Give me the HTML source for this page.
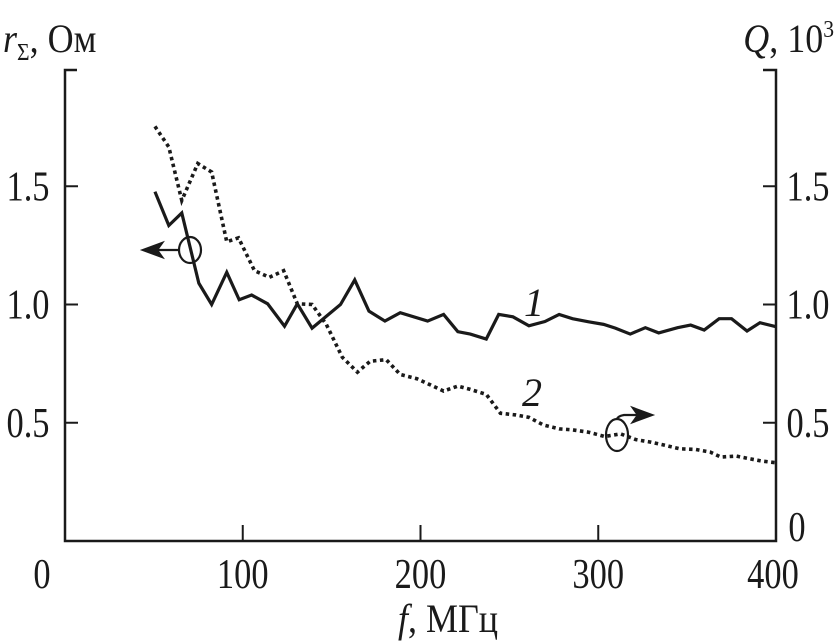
<!DOCTYPE html>
<html><head><meta charset="utf-8"><style>
html,body{margin:0;padding:0;background:#fff;}
svg{display:block;font-family:"Liberation Serif",serif;}
</style></head><body>
<svg id="chart" width="836" height="643" viewBox="0 0 836 643" xmlns="http://www.w3.org/2000/svg">
<g id="axes" stroke="#1a1a1a" stroke-width="2.5" fill="none">
<path d="M77,70 H65 V541 H776 V70 H763"/>
</g>
<g id="ticks" stroke="#1a1a1a" stroke-width="2"></g>
<g id="labels" font-size="42" fill="#1a1a1a"></g>
<text transform="translate(3,52) scale(0.9,1)" font-size="40" fill="#1a1a1a"><tspan font-style="italic">r</tspan><tspan font-size="24" dy="8">Σ</tspan><tspan dy="-8">, Ом</tspan></text>
<text transform="translate(834,52) scale(0.9,1)" font-size="40" text-anchor="end" fill="#1a1a1a"><tspan font-style="italic">Q</tspan>, 10<tspan font-size="24" dy="-15">3</tspan></text>
<text transform="translate(448,632) scale(0.9,1)" font-size="40" text-anchor="middle" fill="#1a1a1a"><tspan font-style="italic">f</tspan>, МГц</text>
<g id="series"></g>
<text x="534" y="316" font-size="40" font-style="italic" text-anchor="middle" fill="#1a1a1a">1</text>
<text x="532" y="406" font-size="40" font-style="italic" text-anchor="middle" fill="#1a1a1a">2</text>
<g stroke="#1a1a1a" stroke-width="2.2" fill="none">
<ellipse cx="190" cy="250" rx="11" ry="13"/>
<path d="M179,250 H150"/>
<path d="M143,250 L162,243 L157,250 L162,257 Z" fill="#1a1a1a"/>
</g>
<g stroke="#1a1a1a" stroke-width="2.2" fill="none">
<ellipse cx="617" cy="435" rx="11" ry="16"/>
<path d="M617,419 Q618,416 624,415 H644"/>
<path d="M652,415 L633,408 L638,415 L633,422 Z" fill="#1a1a1a"/>
</g>
</svg>
<script>
const xTicks=[0,100,200,300,400];
const yTicks=[0.5,1.0,1.5];
const rTicks=[0,0.5,1.0,1.5];
const f1=[50.6,58.4,65.7,75.3,82.5,91,98,105,114,123.5,130.7,139,155,163,171,180,188.6,204,213,221,228,237,244,252,261,270,278,285.5,294.6,303,309.6,318,326.5,334,344.6,352,359.6,368,375,383.7,391,400];
const r1=[1.477,1.334,1.387,1.09,1.0,1.136,1.02,1.04,1.003,0.908,1.003,0.9,1.0,1.104,0.972,0.93,0.965,0.93,0.958,0.885,0.875,0.854,0.958,0.948,0.91,0.928,0.958,0.94,0.927,0.916,0.9,0.875,0.902,0.88,0.902,0.913,0.892,0.94,0.94,0.888,0.923,0.906];
const f2=[50.6,58.4,65.7,74.7,82.5,91,97.6,106.6,115,123,130.7,139,147,156,164.5,171.7,180.7,188.6,198,205,213,221,228,237,245,253.6,261,269,278,285.5,294.6,303.6,312.6,321,329.5,338,345.8,354.8,363,369,377.7,385,392,400];
const q2=[1.753,1.666,1.44,1.596,1.56,1.265,1.282,1.143,1.115,1.143,1.003,1.0,0.916,0.777,0.714,0.76,0.767,0.704,0.686,0.662,0.634,0.655,0.641,0.62,0.54,0.533,0.523,0.491,0.474,0.47,0.46,0.442,0.453,0.429,0.418,0.404,0.39,0.387,0.376,0.355,0.359,0.348,0.338,0.331];
const X=v=>65+v*(711/400);
const Y=v=>541-v*236.5;
const NS='http://www.w3.org/2000/svg';
const tg=document.getElementById('ticks'), lg=document.getElementById('labels'), sg=document.getElementById('series');
function mk(t,a,p){const e=document.createElementNS(NS,t);for(const k in a)e.setAttribute(k,a[k]);p.appendChild(e);return e;}
function lbl(x,y,s){const t=mk('text',{transform:'translate('+x+','+y+') scale(0.82,1)','text-anchor':'middle'},lg);t.textContent=s;return t;}
xTicks.forEach((v,i)=>{
  if(i>0&&i<xTicks.length-1){const l=mk('line',{x1:X(v),x2:X(v),y1:541,y2:525},tg);
  
  }
  const x=i===0?42:(i===xTicks.length-1?773:X(v));
  const t=lbl(x,588,String(v));
  
  
});
yTicks.forEach(v=>{
  const l=mk('line',{x1:65,x2:78,y1:Y(v),y2:Y(v)},tg);
  
  
  const t=lbl(28,Y(v)+14,v.toFixed(1));
  
  
});
rTicks.forEach(v=>{
  if(v>0){const l=mk('line',{x1:763,x2:776,y1:Y(v),y2:Y(v)},tg);
  
  }
  const t=lbl(v===0?797:808,v===0?541:Y(v)+14,v===0?'0':v.toFixed(1));
  
  
});
const p1=mk('polyline',{points:f1.map((f,i)=>X(f)+','+Y(r1[i])).join(' '),fill:'none',stroke:'#1a1a1a','stroke-width':3.2,'stroke-linejoin':'miter'},sg);


const p2=mk('polyline',{points:f2.map((f,i)=>X(f)+','+Y(q2[i])).join(' '),fill:'none',stroke:'#1a1a1a','stroke-width':3.6,'stroke-dasharray':'3.5 3.5'},sg);


</script>
</body></html>
